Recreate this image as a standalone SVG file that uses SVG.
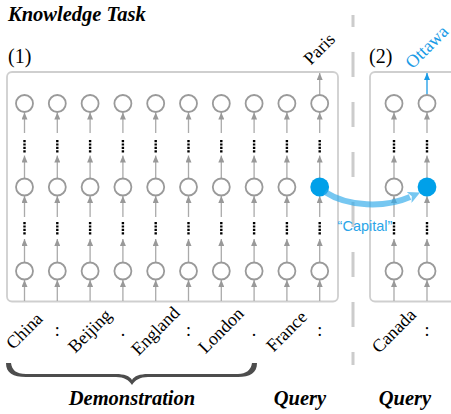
<svg xmlns="http://www.w3.org/2000/svg" xmlns:xlink="http://www.w3.org/1999/xlink" width="451" height="414" viewBox="0 0 451 414">
<style>
.panel{fill:none;stroke:#cfcfcf;stroke-width:1.8}
.lk{stroke:#aaaaaa;stroke-width:1.3;marker-end:url(#ah)}
.dots{stroke:#000;stroke-width:2.4;stroke-dasharray:2.2 1.2}
.nd{fill:#fff;stroke:#9a9a9a;stroke-width:1.8}
.bl{fill:#00a0e9;stroke:none}
.lab{font-family:"Liberation Serif","Times New Roman",serif;font-size:18px;fill:#000}
.title{font-family:"Liberation Serif","Times New Roman",serif;font-size:20.5px;font-weight:bold;font-style:italic;fill:#000}
.num{font-family:"Liberation Serif","Times New Roman",serif;font-size:20px;fill:#000}
</style>
<defs>
<marker id="ah" viewBox="0 0 7 6" markerWidth="7" markerHeight="6" refX="7" refY="3" orient="auto" markerUnits="userSpaceOnUse"><path d="M0,0 L7,3 L0,6 z" fill="#999"/></marker>
<marker id="ahb" viewBox="0 0 7 6" markerWidth="7" markerHeight="6" refX="7" refY="3" orient="auto" markerUnits="userSpaceOnUse"><path d="M0,0 L7,3 L0,6 z" fill="#1a9be6"/></marker>
<marker id="ahbig" viewBox="0 0 12 12" markerWidth="12" markerHeight="12" refX="1" refY="6" orient="auto" markerUnits="userSpaceOnUse"><path d="M0,0 L12,6 L0,12 L3,6 z" fill="#2eaaeb"/></marker>
<g id="col">
<line class="lk" x1="0" y1="133" x2="0" y2="112.5"/>
<line class="dots" x1="0" y1="140" x2="0" y2="153"/>
<line class="lk" x1="0" y1="178.5" x2="0" y2="155.5"/>
<line class="lk" x1="0" y1="217" x2="0" y2="196"/>
<line class="dots" x1="0" y1="222" x2="0" y2="235"/>
<line class="lk" x1="0" y1="262.5" x2="0" y2="239"/>
<line class="lk" x1="0" y1="301" x2="0" y2="280"/>
</g>
</defs>
<rect width="451" height="414" fill="#fff"/>
<text class="title" x="8" y="21">Knowledge Task</text>
<text class="num" x="8" y="63">(1)</text>
<text class="num" x="369" y="63">(2)</text>
<rect class="panel" x="7" y="72" width="331" height="229.5" rx="5"/>
<rect class="panel" x="370" y="72" width="100" height="229.5" rx="5"/>
<line x1="353" y1="15" x2="353" y2="365" stroke="#cccccc" stroke-width="3" stroke-dasharray="25 25" stroke-dashoffset="13"/>
<g id="connectors">
<use xlink:href="#col" x="24.5"/>
<use xlink:href="#col" x="57.3"/>
<use xlink:href="#col" x="90.1"/>
<use xlink:href="#col" x="122.9"/>
<use xlink:href="#col" x="155.7"/>
<use xlink:href="#col" x="188.5"/>
<use xlink:href="#col" x="221.3"/>
<use xlink:href="#col" x="254.1"/>
<use xlink:href="#col" x="286.9"/>
<use xlink:href="#col" x="319.7"/>
<use xlink:href="#col" x="394"/>
<use xlink:href="#col" x="427"/>
<line class="lk" x1="319.7" y1="94.5" x2="319.7" y2="73"/>
<line x1="427" y1="94.5" x2="427" y2="73" stroke="#1a9be6" stroke-width="1.3" marker-end="url(#ahb)"/>
</g>
<g id="n-c0-r0"><circle class="nd" cx="24.5" cy="103.5" r="8.5"/></g>
<g id="n-c1-r0"><circle class="nd" cx="57.3" cy="103.5" r="8.5"/></g>
<g id="n-c2-r0"><circle class="nd" cx="90.1" cy="103.5" r="8.5"/></g>
<g id="n-c3-r0"><circle class="nd" cx="122.9" cy="103.5" r="8.5"/></g>
<g id="n-c4-r0"><circle class="nd" cx="155.7" cy="103.5" r="8.5"/></g>
<g id="n-c5-r0"><circle class="nd" cx="188.5" cy="103.5" r="8.5"/></g>
<g id="n-c6-r0"><circle class="nd" cx="221.3" cy="103.5" r="8.5"/></g>
<g id="n-c7-r0"><circle class="nd" cx="254.1" cy="103.5" r="8.5"/></g>
<g id="n-c8-r0"><circle class="nd" cx="286.9" cy="103.5" r="8.5"/></g>
<g id="n-c9-r0"><circle class="nd" cx="319.7" cy="103.5" r="8.5"/></g>
<g id="n-c0-r1"><circle class="nd" cx="24.5" cy="187" r="8.5"/></g>
<g id="n-c1-r1"><circle class="nd" cx="57.3" cy="187" r="8.5"/></g>
<g id="n-c2-r1"><circle class="nd" cx="90.1" cy="187" r="8.5"/></g>
<g id="n-c3-r1"><circle class="nd" cx="122.9" cy="187" r="8.5"/></g>
<g id="n-c4-r1"><circle class="nd" cx="155.7" cy="187" r="8.5"/></g>
<g id="n-c5-r1"><circle class="nd" cx="188.5" cy="187" r="8.5"/></g>
<g id="n-c6-r1"><circle class="nd" cx="221.3" cy="187" r="8.5"/></g>
<g id="n-c7-r1"><circle class="nd" cx="254.1" cy="187" r="8.5"/></g>
<g id="n-c8-r1"><circle class="nd" cx="286.9" cy="187" r="8.5"/></g>
<g id="n-c9-r1"><circle class="bl" cx="319.7" cy="187" r="9.4"/></g>
<g id="n-c0-r2"><circle class="nd" cx="24.5" cy="271" r="8.5"/></g>
<g id="n-c1-r2"><circle class="nd" cx="57.3" cy="271" r="8.5"/></g>
<g id="n-c2-r2"><circle class="nd" cx="90.1" cy="271" r="8.5"/></g>
<g id="n-c3-r2"><circle class="nd" cx="122.9" cy="271" r="8.5"/></g>
<g id="n-c4-r2"><circle class="nd" cx="155.7" cy="271" r="8.5"/></g>
<g id="n-c5-r2"><circle class="nd" cx="188.5" cy="271" r="8.5"/></g>
<g id="n-c6-r2"><circle class="nd" cx="221.3" cy="271" r="8.5"/></g>
<g id="n-c7-r2"><circle class="nd" cx="254.1" cy="271" r="8.5"/></g>
<g id="n-c8-r2"><circle class="nd" cx="286.9" cy="271" r="8.5"/></g>
<g id="n-c9-r2"><circle class="nd" cx="319.7" cy="271" r="8.5"/></g>
<g id="m-c0-r0"><circle class="nd" cx="394" cy="103.5" r="8.5"/></g>
<g id="m-c1-r0"><circle class="nd" cx="427" cy="103.5" r="8.5"/></g>
<g id="m-c0-r1"><circle class="nd" cx="394" cy="187" r="8.5"/></g>
<g id="m-c1-r1"><circle class="bl" cx="427" cy="187" r="9.4"/></g>
<g id="m-c0-r2"><circle class="nd" cx="394" cy="271" r="8.5"/></g>
<g id="m-c1-r2"><circle class="nd" cx="427" cy="271" r="8.5"/></g>
<g id="capital-arrow" opacity="0.65">
<path d="M325,192 C348,207 385,208 410,197" fill="none" stroke="#2eaaeb" stroke-width="6" marker-end="url(#ahbig)"/>
</g>
<text x="365" y="231" text-anchor="middle" font-family="'Liberation Sans',Arial,sans-serif" font-size="14.5" fill="#2aa5e8">“Capital”</text>
<text class="lab" text-anchor="middle" x="323.5" y="53" transform="rotate(-45 323.5 53)">Paris</text>
<text class="lab" text-anchor="middle" x="431" y="51" transform="rotate(-45 431 51)" style="fill:#1a9be6">Ottawa</text>
<text class="lab" text-anchor="middle" x="28.5" y="335" transform="rotate(-45 28.5 335)">China</text>
<text class="lab" text-anchor="middle" x="57.3" y="336">:</text>
<text class="lab" text-anchor="middle" x="94" y="335" transform="rotate(-45 94 335)">Beijing</text>
<text class="lab" text-anchor="middle" x="122.9" y="336">.</text>
<text class="lab" text-anchor="middle" x="159.6" y="335" transform="rotate(-45 159.6 335)">England</text>
<text class="lab" text-anchor="middle" x="188.5" y="336">:</text>
<text class="lab" text-anchor="middle" x="225.2" y="334.5" transform="rotate(-45 225.2 334.5)">London</text>
<text class="lab" text-anchor="middle" x="254.1" y="336">.</text>
<text class="lab" text-anchor="middle" x="290.8" y="335.5" transform="rotate(-45 290.8 335.5)">France</text>
<text class="lab" text-anchor="middle" x="319.7" y="336">:</text>
<text class="lab" text-anchor="middle" x="398" y="335" transform="rotate(-45 398 335)">Canada</text>
<text class="lab" text-anchor="middle" x="427" y="336">:</text>
<path d="M6,363 C6,373 13,377 26,377 L116,377 C124,377 129,380 132,385 C135,380 140,377 148,377 L238,377 C250,377 257,373 257,363 L252,363 C251,370 246,374 238,374 L148,374 C140,374 134,376 132,380 C130,376 124,374 116,374 L26,374 C16,374 12,370 11,363 Z" fill="#4d4d4d"/>
<text class="title" x="132" y="405" text-anchor="middle">Demonstration</text>
<text class="title" x="300" y="405" text-anchor="middle">Query</text>
<text class="title" x="405" y="405" text-anchor="middle">Query</text>
</svg>
